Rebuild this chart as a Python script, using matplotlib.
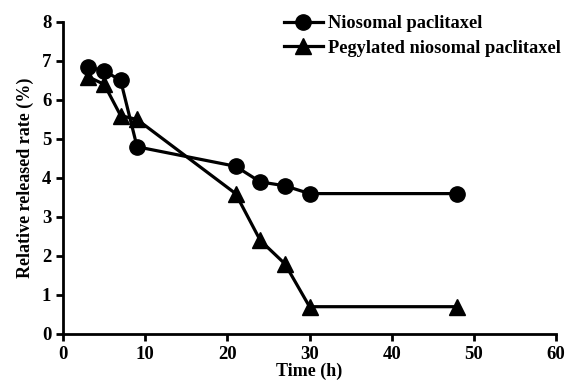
import matplotlib
matplotlib.use("Agg")
import matplotlib.pyplot as plt

time_niosomal = [3, 5, 7, 9, 21, 24, 27, 30, 48]
rate_niosomal = [6.85, 6.75, 6.5, 4.8, 4.3, 3.9, 3.8, 3.6, 3.6]
time_peg = [3, 5, 7, 9, 21, 24, 27, 30, 48]
rate_peg = [6.6, 6.4, 5.6, 5.5, 3.6, 2.4, 1.8, 0.7, 0.7]
x_ticks = [0, 10, 20, 30, 40, 50, 60]
y_ticks = [0, 1, 2, 3, 4, 5, 6, 7, 8]

plt.rcParams['font.family'] = ['Liberation Serif', 'DejaVu Serif']
plt.rcParams['font.weight'] = 'bold'

fig = plt.figure(figsize=(5.69, 3.9), dpi=100)
ax = fig.add_axes([0.111, 0.1436, 0.866, 0.8])

ax.plot(time_niosomal, rate_niosomal, color='black', lw=2.3, marker='o', ms=11,
        label='Niosomal paclitaxel', clip_on=False)
ax.plot(time_peg, rate_peg, color='black', lw=2.3, marker='^', ms=12,
        label='Pegylated niosomal paclitaxel', clip_on=False)

ax.set_xlim(0, 60)
ax.set_ylim(0, 8)
ax.set_xticks(x_ticks)
ax.set_yticks(y_ticks)
for s in ['top', 'right']:
    ax.spines[s].set_visible(False)
for s in ['left', 'bottom']:
    ax.spines[s].set_linewidth(2)
ax.tick_params(direction='out', width=2, length=5, labelsize=13.5)
ax.set_xlabel('Time (h)', fontsize=13, fontweight='bold', labelpad=0)
ax.set_ylabel('Relative released rate (%)', fontsize=13, fontweight='bold', labelpad=6)

leg = ax.legend(loc='upper right', bbox_to_anchor=(1.025, 1.045), frameon=False,
                fontsize=13.2, handlelength=2.1, handletextpad=0.3, labelspacing=0.4,
                borderaxespad=0)
fig.savefig('out.png', dpi=100)
